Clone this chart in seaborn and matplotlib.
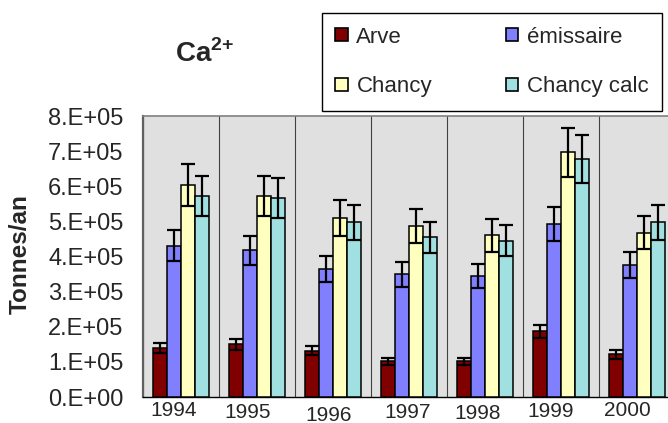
import matplotlib
matplotlib.use("Agg")
import matplotlib.pyplot as plt
from matplotlib.patches import Patch
from matplotlib.transforms import blended_transform_factory, offset_copy
import numpy as np
import pandas as pd
import seaborn as sns

# Annual Ca2+ loads (tonnes per year) at each station
years = ["1994", "1995", "1996", "1997", "1998", "1999", "2000"]
sites = ["Arve", "émissaire", "Chancy", "Chancy calc"]
arve = [1.40e5, 1.50e5, 1.32e5, 1.02e5, 1.02e5, 1.87e5, 1.22e5]
emissaire = [4.32e5, 4.18e5, 3.65e5, 3.50e5, 3.44e5, 4.93e5, 3.77e5]
chancy = [6.04e5, 5.74e5, 5.11e5, 4.88e5, 4.61e5, 6.98e5, 4.68e5]
chancy_calc = [5.72e5, 5.67e5, 4.98e5, 4.55e5, 4.46e5, 6.79e5, 4.98e5]
err_pct = 0.10  # error bars: +/- 10 % of each value

y_ticks = [0, 1e5, 2e5, 3e5, 4e5, 5e5, 6e5, 7e5, 8e5]
y_tick_labels = ["0.E+00", "1.E+05", "2.E+05", "3.E+05", "4.E+05",
                 "5.E+05", "6.E+05", "7.E+05", "8.E+05"]

colors = ["#800000", "#8080FF", "#FFFFC0", "#A0E0E0"]

df = pd.DataFrame({
    "year": np.repeat([years], len(sites), axis=0).ravel(),
    "site": np.repeat(sites, len(years)),
    "value": np.concatenate([arve, emissaire, chancy, chancy_calc]),
})

sns.set_style("white")
plt.rcParams["font.family"] = ["Liberation Sans", "DejaVu Sans"]
plt.rcParams["mathtext.fontset"] = "custom"
plt.rcParams["mathtext.rm"] = "Liberation Sans"
plt.rcParams["mathtext.bf"] = "Liberation Sans:bold"

W, H = 668, 423
fig = plt.figure(figsize=(W / 100, H / 100), dpi=100)
fig.patch.set_facecolor("white")

# plot area in pixel coordinates (extends slightly past the right edge)
left, right, top, bottom = 143, 675, 116.5, 397
ax = fig.add_axes([left / W, 1 - bottom / H, (right - left) / W, (bottom - top) / H])
ax.set_facecolor("#E0E0E0")

sns.barplot(data=df, x="year", y="value", hue="site", hue_order=sites,
            order=years, palette=colors, width=0.744, gap=0, dodge=True,
            errorbar=None, edgecolor="black", linewidth=1.1, saturation=1,
            legend=False, ax=ax, zorder=3)

# symmetric percentage error bars on every bar
bar_groups = list(ax.containers)
for cont in bar_groups:
    xs = np.array([b.get_x() + b.get_width() / 2 for b in cont.patches])
    hs = np.array([b.get_height() for b in cont.patches])
    ax.errorbar(xs, hs, yerr=err_pct * hs, fmt="none", ecolor="black",
                elinewidth=1.6, capsize=4.7, capthick=1.6, zorder=5)

ax.set_xlim(-0.5, len(years) - 0.5)
ax.set_ylim(0, 8e5)
ax.set_yticks(y_ticks)
ax.set_yticklabels(y_tick_labels, fontsize=17)

# category boundaries carry the ticks and the vertical grid lines
ax.set_xticks(np.arange(len(years) + 1) - 0.5)
ax.set_xticklabels([])
ax.grid(axis="x", color="#404040", linewidth=0.8)
ax.grid(axis="y", visible=False)
ax.set_axisbelow(True)
ax.tick_params(axis="x", direction="out", length=6, width=0.9, color="black")
ax.tick_params(axis="y", direction="out", length=5, width=0.9, color="black", pad=9)

ax.set_xlabel("")
ax.set_ylabel("")

for side in ["top", "right"]:
    ax.spines[side].set_color("#808080")
    ax.spines[side].set_linewidth(1.2)
ax.spines["left"].set_color("#606060")
ax.spines["left"].set_linewidth(1.6)
ax.spines["bottom"].set_color("black")
ax.spines["bottom"].set_linewidth(1.0)

# year labels, slightly staggered below the axis
label_dx = [-7, -9.5, -4.5, -1, -7.5, -10.5, -10]
label_dy = [13, 15, 18, 15, 16, 14, 13]
trans = blended_transform_factory(ax.transData, ax.transAxes)
for i, (yr, dx, dy) in enumerate(zip(years, label_dx, label_dy)):
    t = offset_copy(trans, fig=fig, x=dx, y=-dy, units="dots")
    ax.text(i, 0, yr, transform=t, ha="center", va="center", fontsize=15)

fig.text(20 / W, 1 - 254 / H, "Tonnes/an", rotation=90, ha="center",
         va="center", fontsize=17.5, fontweight="bold")

fig.text(175 / W, 1 - 62 / H, r"Ca$^{\mathbf{2{+}}}$", ha="left",
         va="baseline", fontsize=20, fontweight="bold")

# legend laid out row by row: Arve / émissaire, then Chancy / Chancy calc
handles = [Patch(facecolor=c, edgecolor="black", linewidth=1.2) for c in colors]
row_order = [0, 2, 1, 3]
leg = fig.legend([handles[i] for i in row_order], [sites[i] for i in row_order],
                 ncol=2, loc="center left",
                 bbox_to_anchor=(322 / W, 1 - 111 / H, 340 / W, 98 / H),
                 mode="expand", fontsize=16, frameon=True, fancybox=False,
                 edgecolor="black", framealpha=1, handlelength=0.55,
                 handleheight=0.55, handletextpad=0.4, labelspacing=1.3,
                 borderpad=0.6, borderaxespad=0)
leg.get_frame().set_linewidth(1.0)

fig.savefig("out.png", dpi=100)
